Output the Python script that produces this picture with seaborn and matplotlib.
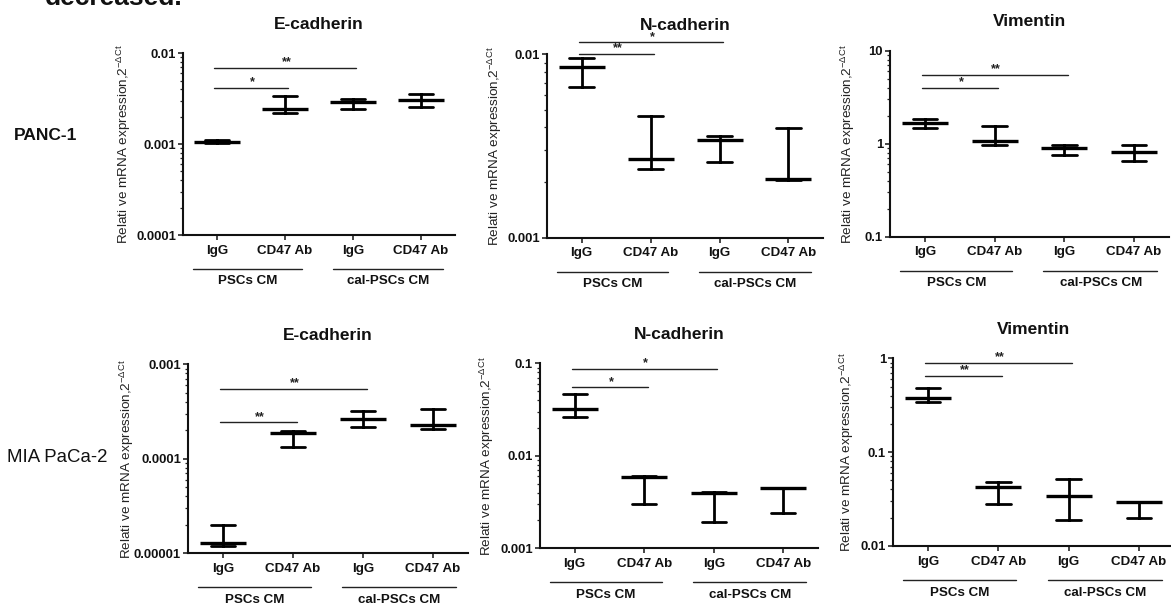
import numpy as np
import pandas as pd
import matplotlib
matplotlib.use("Agg")
import matplotlib.pyplot as plt
import matplotlib.ticker as mticker
import matplotlib.transforms as mtrans
import seaborn as sns

# ---------------- data ----------------
codes = ["PSCs IgG", "PSCs CD47 Ab", "cal IgG", "cal CD47 Ab"]
tick_labels = ["IgG", "CD47 Ab", "IgG", "CD47 Ab"]
group_labels = ["PSCs CM", "cal-PSCs CM"]
row_labels = ["PANC-1", "MIA PaCa-2"]
gene_titles = ["E-cadherin", "N-cadherin", "Vimentin"]

panc1_ecad_mean = [0.00106, 0.00244, 0.00288, 0.00304]
panc1_ecad_low = [0.00104, 0.00222, 0.00244, 0.00254]
panc1_ecad_high = [0.00110, 0.00339, 0.00314, 0.00353]

panc1_ncad_mean = [0.00853, 0.00267, 0.00340, 0.00209]
panc1_ncad_low = [0.00660, 0.00237, 0.00258, 0.00207]
panc1_ncad_high = [0.00951, 0.00463, 0.00358, 0.00396]

panc1_vim_mean = [1.66, 1.08, 0.905, 0.815]
panc1_vim_low = [1.46, 0.97, 0.75, 0.65]
panc1_vim_high = [1.84, 1.56, 0.96, 0.97]

mia_ecad_mean = [1.30e-5, 1.86e-4, 2.64e-4, 2.28e-4]
mia_ecad_low = [1.20e-5, 1.32e-4, 2.15e-4, 2.07e-4]
mia_ecad_high = [1.98e-5, 1.95e-4, 3.18e-4, 3.37e-4]

mia_ncad_mean = [0.0323, 0.00586, 0.00399, 0.00445]
mia_ncad_low = [0.0261, 0.00301, 0.00191, 0.00243]
mia_ncad_high = [0.0469, 0.00610, 0.00405, 0.00445]

mia_vim_mean = [0.380, 0.0425, 0.0340, 0.0292]
mia_vim_low = [0.340, 0.0277, 0.0189, 0.0197]
mia_vim_high = [0.482, 0.0484, 0.0516, 0.0297]

# significance brackets: (from category, to category, y value, label)
panc1_ecad_sig = [(0, 1, 0.00418, "*"), (0, 2, 0.00694, "**")]
panc1_ncad_sig = [(0, 1, 0.0101, "**"), (0, 2, 0.0116, "*")]
panc1_vim_sig = [(0, 1, 4.0, "*"), (0, 2, 5.48, "**")]
mia_ecad_sig = [(0, 1, 2.43e-4, "**"), (0, 2, 5.52e-4, "**")]
mia_ncad_sig = [(0, 1, 0.0551, "*"), (0, 2, 0.0875, "*")]
mia_vim_sig = [(0, 1, 0.648, "**"), (0, 2, 0.897, "**")]

# ---------------- style ----------------
sns.set_style("ticks")
plt.rcParams["font.family"] = ["Liberation Sans", "DejaVu Sans"]
plt.rcParams["mathtext.fontset"] = "custom"
plt.rcParams["mathtext.rm"] = "Liberation Sans"

W, H = 1171, 608
fig = plt.figure(figsize=(W / 100, H / 100), dpi=100)
fig.patch.set_facecolor("white")

# panel geometry in pixels: left, right, top, bottom, y-label centre x
panels = [
    dict(box=(183, 455, 53.3, 235.0), ylx=124, ylim=(1e-4, 1e-2),
         mean=panc1_ecad_mean, low=panc1_ecad_low, high=panc1_ecad_high, sig=panc1_ecad_sig, title=gene_titles[0]),
    dict(box=(547, 823, 54.3, 237.7), ylx=495, ylim=(1e-3, 1e-2),
         mean=panc1_ncad_mean, low=panc1_ncad_low, high=panc1_ncad_high, sig=panc1_ncad_sig, title=gene_titles[1]),
    dict(box=(890, 1169, 50.7, 236.7), ylx=848, ylim=(0.1, 10),
         mean=panc1_vim_mean, low=panc1_vim_low, high=panc1_vim_high, sig=panc1_vim_sig, title=gene_titles[2]),
    dict(box=(188, 468, 364.3, 553.3), ylx=127, ylim=(1e-5, 1e-3),
         mean=mia_ecad_mean, low=mia_ecad_low, high=mia_ecad_high, sig=mia_ecad_sig, title=gene_titles[0]),
    dict(box=(540, 818, 363.3, 548.3), ylx=487, ylim=(1e-3, 0.1),
         mean=mia_ncad_mean, low=mia_ncad_low, high=mia_ncad_high, sig=mia_ncad_sig, title=gene_titles[1]),
    dict(box=(893, 1174, 358.3, 546.0), ylx=847, ylim=(0.01, 1),
         mean=mia_vim_mean, low=mia_vim_low, high=mia_vim_high, sig=mia_vim_sig, title=gene_titles[2]),
]

ylabel = "Relati ve mRNA expression,2$^{\\mathregular{-ΔCt}}$"


def fmt(v, pos=None):
    return np.format_float_positional(v, trim="-")


for p in panels:
    L, R, T, B = p["box"]
    wpx, hpx = R - L, B - T
    ax = fig.add_axes([L / W, 1 - B / H, wpx / W, hpx / H])
    ax.set_facecolor("none")
    rows = []
    for c, lo, m, hi in zip(codes, p["low"], p["mean"], p["high"]):
        for v in (lo, m, hi):
            rows.append((c, v))
    df = pd.DataFrame(rows, columns=["condition", "expr"])
    ax.set_yscale("log")
    sns.pointplot(data=df, x="condition", y="expr", order=codes, ax=ax,
                  estimator="median", errorbar=("pi", 100), capsize=0.35,
                  color="black", linestyle="none", marker="_",
                  markersize=33, markeredgewidth=2.4,
                  err_kws={"linewidth": 2.0})
    ax.set_yscale("log")
    ax.set_ylim(*p["ylim"])
    ax.set_xlim(-0.5, 3.5)
    ax.set_xlabel("")
    ax.set_ylabel("")
    sns.despine(ax=ax)
    for s in ("left", "bottom"):
        ax.spines[s].set_linewidth(1.5)
        ax.spines[s].set_color("#111111")
    lo_e, hi_e = np.log10(p["ylim"])
    ax.yaxis.set_major_locator(mticker.FixedLocator([10.0 ** k for k in range(int(round(lo_e)), int(round(hi_e)) + 1)]))
    ax.yaxis.set_major_formatter(mticker.FuncFormatter(fmt))
    ax.yaxis.set_minor_locator(mticker.LogLocator(base=10, subs=np.arange(2, 10), numticks=20))
    ax.yaxis.set_minor_formatter(mticker.NullFormatter())
    ax.tick_params(axis="y", which="major", length=3.5, width=1.2, pad=1.5, labelsize=9.4)
    ax.tick_params(axis="y", which="minor", length=2.2, width=0.9)
    ax.tick_params(axis="x", which="major", length=3.5, width=1.2, pad=3.5, labelsize=9.6)
    ax.set_xticks(range(4))
    ax.set_xticklabels(tick_labels)
    for t in ax.get_xticklabels() + ax.get_yticklabels():
        t.set_fontweight("bold")
        t.set_color("#111111")

    # group lines and labels under the axis
    tr = mtrans.blended_transform_factory(ax.transData, ax.transAxes)
    yline = -34.0 / hpx
    ylab = -46.5 / hpx
    for (x0, x1, xc), g in zip([(-0.36, 1.25, 0.45), (1.70, 3.33, 2.52)], group_labels):
        ax.plot([x0, x1], [yline, yline], transform=tr, color="#222222", lw=1.0, clip_on=False)
        ax.text(xc, ylab, g, transform=tr, ha="center", va="center",
                fontsize=9.6, fontweight="bold", color="#111111")

    # significance brackets
    for i, j, yv, lab in p["sig"]:
        ax.plot([i - 0.04, j + 0.05], [yv, yv], color="#222222", lw=1.0, clip_on=False)
        ax.annotate(lab, xy=((i + j) / 2 + 0.02, yv), xytext=(0, 4), textcoords="offset points",
                    ha="center", va="center", fontsize=9, fontweight="bold", color="#222222",
                    annotation_clip=False)

    # title
    ax.text(0.5, 1 + 29.0 / hpx, p["title"], transform=ax.transAxes, ha="center", va="center",
            fontsize=12.5, fontweight="bold", color="#111111")
    # y label
    fig.text(p["ylx"] / W, 1 - (T + B) / 2 / H, ylabel, rotation=90, ha="center", va="center",
             fontsize=9.7, color="#222222")

# row labels
fig.text(46 / W, 1 - 135 / H, row_labels[0], ha="center", va="center", fontsize=12.5,
         fontweight="bold", color="#111111")
fig.text(7 / W, 1 - 457 / H, row_labels[1], ha="left", va="center", fontsize=13.4,
         color="#111111")

# cut-off line of text from the page above (the reference shows only its lower edge)
fig.text(45 / W, 1 - 5 / H, "decreased.", ha="left", va="baseline", fontsize=19,
         fontweight="bold", color="#111111")

fig.savefig("out.png", dpi=100, facecolor="white")
